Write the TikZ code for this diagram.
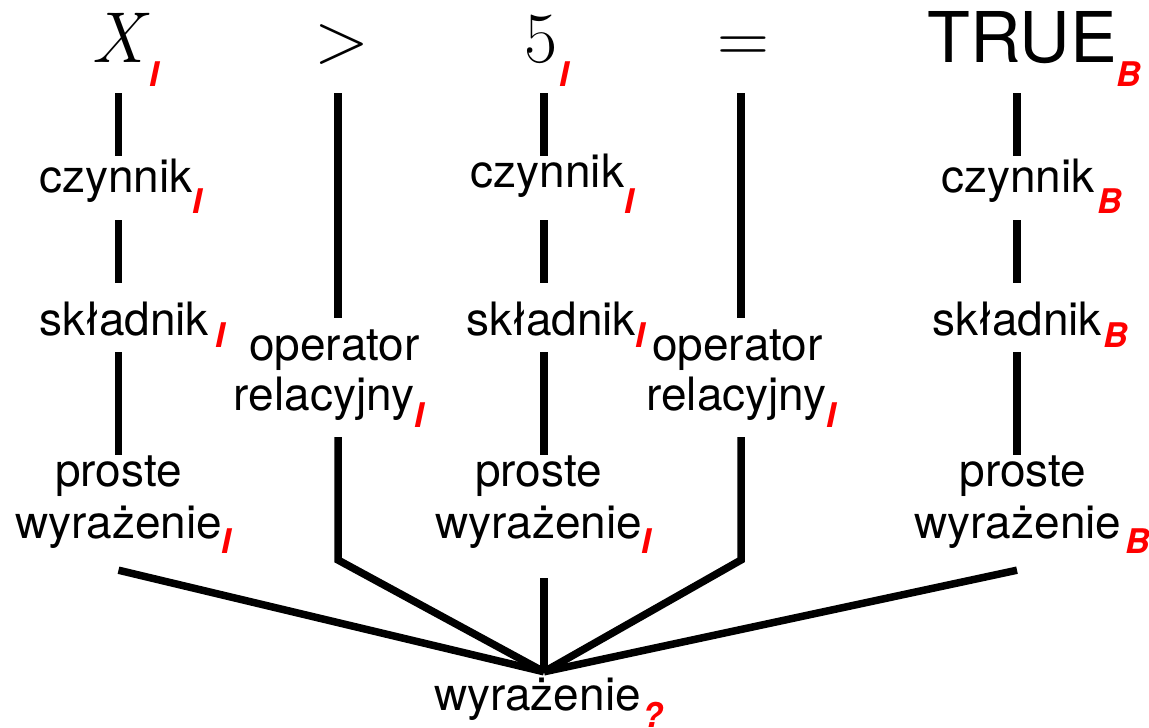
\documentclass[tikz,border=0pt]{standalone}
\usepackage{fontspec}
\newfontfamily\hv{TeX Gyre Heros}
\usetikzlibrary{calc}

% red bold-italic type tag hung after a word: \typetag{kern}{drop}{letter}
\newcommand\typetag[3]{\rlap{\kern#1pt\raisebox{-#2pt}{\color{red}\hv\bfseries\itshape\fontsize{34}{34}\selectfont #3}}}

\tikzset{
  lbl/.style={inner sep=0pt, anchor=base, font=\hv\fontsize{46}{55}\selectfont},
  sym/.style={inner sep=0pt, anchor=base, text depth=31pt, font=\rmfamily\fontsize{72}{80}\selectfont},
  edge/.style={draw=black, line width=7.5pt},
}

\begin{document}
\begin{tikzpicture}[x=1pt,y=-1pt]
\useasboundingbox (0,0) rectangle (1149,728);

% column axes
\coordinate (k1) at (118.5,0);
\coordinate (k2) at (338,0);
\coordinate (k3) at (544,0);
\coordinate (k4) at (741,0);
\coordinate (k5) at (1017,0);

% expression tokens
\node[sym] (t1) at (121,62) {\itshape X\/\typetag{-1}{24}{I}};
\node[sym] (t2) at (342,62) {>};
\node[sym] (t3) at (541,62) {5\typetag{2}{24}{I}};
\node[sym] (t4) at (743,62) {=};
\node[sym, font=\hv\fontsize{70}{80}\selectfont] (t5) at (1022,62) {TRUE\typetag{0}{24}{B}};

% factors
\node[lbl, text height=36pt, text depth=28pt] (c1) at (116,192) {czynnik\typetag{0}{21}{I}};
\node[lbl, text height=36pt, text depth=28pt] (c3) at (547.5,192) {\raisebox{5pt}{czynnik}\typetag{0}{21}{I}};
\node[lbl, text height=36pt, text depth=28pt] (c5) at (1018,192) {czynnik\typetag{3}{21}{B}};

% terms
\node[lbl, text height=52pt, text depth=17pt] (s1) at (124,335) {składnik\typetag{7}{12}{I}};
\node[lbl, text height=52pt, text depth=17pt] (s3) at (551,335) {składnik\typetag{0}{12}{I}};
\node[lbl, text height=52pt, text depth=17pt] (s5) at (1017,335) {składnik\typetag{2}{12}{B}};

% relational operators
\node[lbl, text height=42pt] (o2) at (334.5,360) {operator};
\node[lbl, text depth=27pt] (r2) at (324,410) {relacyjny\typetag{0}{17}{I}};
\node[lbl, text height=42pt] (o4) at (737.5,360) {operator};
\node[lbl, text depth=27pt] (r4) at (736.5,410) {relacyjny\typetag{0}{17}{I}};

% simple expressions
\node[lbl, text height=31pt] (p1) at (118.5,486) {proste};
\node[lbl, text depth=32pt] (w1) at (118.5,538) {wyrażenie\typetag{0}{15}{I}};
\node[lbl, text height=31pt] (p3) at (538.5,486) {proste};
\node[lbl, text depth=40pt] (w3) at (538.5,538) {wyrażenie\typetag{0}{15}{I}};
\node[lbl, text height=31pt] (p5) at (1023,486) {proste};
\node[lbl, text depth=32pt] (w5) at (1018,538) {wyrażenie\typetag{4}{15}{B}};

% root
\node[lbl, text height=38pt] (root) at (544,710) {\kern-13pt wyrażenie\typetag{2}{17}{?}};

% bends of the operator branches
\coordinate (b2) at (338,560);
\coordinate (b4) at (741,560);

% column 1
\draw[edge] (k1 |- t1.south) -- (k1 |- c1.north);
\draw[edge] (k1 |- c1.south) -- (k1 |- s1.north);
\draw[edge] (k1 |- s1.south) -- (k1 |- p1.north);
\draw[edge] (k1 |- w1.south) -- (root.north);
% column 2
\draw[edge] (k2 |- t2.south) -- (k2 |- o2.north);
\draw[edge] (k2 |- r2.south) -- (b2) -- (root.north);
% column 3
\draw[edge] (k3 |- t3.south) -- (k3 |- c3.north);
\draw[edge] (k3 |- c3.south) -- (k3 |- s3.north);
\draw[edge] (k3 |- s3.south) -- (k3 |- p3.north);
\draw[edge] (k3 |- w3.south) -- (root.north);
% column 4
\draw[edge] (k4 |- t4.south) -- (k4 |- o4.north);
\draw[edge] (k4 |- r4.south) -- (b4) -- (root.north);
% column 5
\draw[edge] (k5 |- t5.south) -- (k5 |- c5.north);
\draw[edge] (k5 |- c5.south) -- (k5 |- s5.north);
\draw[edge] (k5 |- s5.south) -- (k5 |- p5.north);
\draw[edge] (k5 |- w5.south) -- (root.north);
\end{tikzpicture}
\end{document}
